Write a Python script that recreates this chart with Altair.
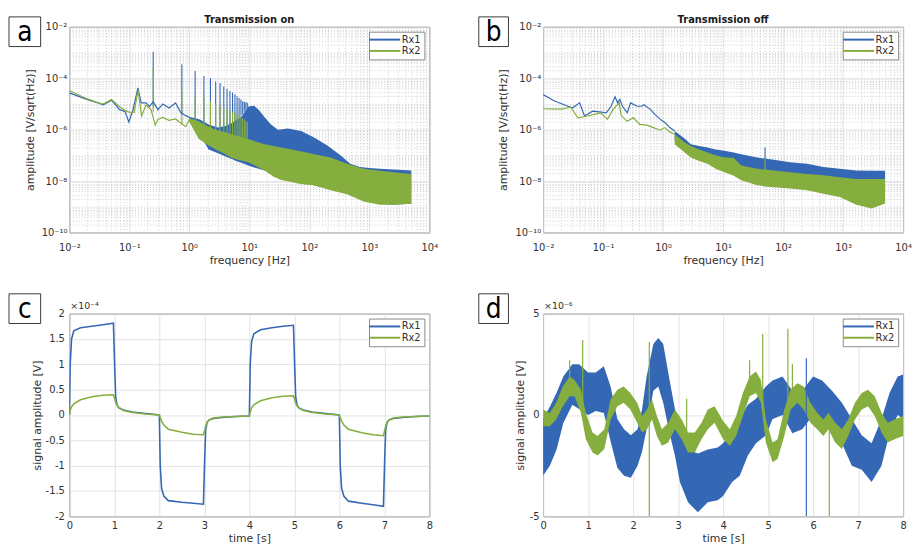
import math
import altair as alt
import pandas as pd

BLUE = "#3468b4"
GREEN = "#86ae3e"
FONT = "DejaVu Sans"
TXT = "#303030"
GRID_MAJOR = "#dcdcdc"
GRID_MINOR = "#c4c4c4"
SERIES = ["Rx1", "Rx2"]

# ---------------- panel a : Transmission on (amplitude spectrum) ----------------
a_rx1_line_f = [0.01, 0.0195, 0.032, 0.0368, 0.0505, 0.069, 0.085, 0.098, 0.115, 0.139, 0.158,
                0.19, 0.216, 0.25, 0.3, 0.36, 0.46, 0.59, 0.72, 0.87, 1.0]
a_rx1_line_v = [2.7e-5, 1.5e-5, 1.05e-5, 9.3e-6, 1.4e-5, 6.0e-6, 5.0e-6, 2.0e-6, 5.8e-6, 4.2e-5, 1.1e-5,
                1.1e-5, 8.0e-6, 1.2e-5, 6.0e-6, 1.0e-5, 7.0e-6, 1.1e-5, 4.6e-6, 3.5e-6, 3.0e-6]
a_rx2_line_f = [0.01, 0.0195, 0.032, 0.0368, 0.0505, 0.069, 0.085, 0.1, 0.12, 0.14, 0.16,
                0.19, 0.23, 0.27, 0.3, 0.36, 0.46, 0.59, 0.72, 0.87, 1.0]
a_rx2_line_v = [3.3e-5, 1.6e-5, 1.05e-5, 1.0e-5, 1.5e-5, 7.8e-6, 5.5e-6, 4.8e-6, 4.6e-6, 3.4e-5, 3.4e-6,
                9.0e-6, 6.0e-6, 1.5e-6, 2.5e-6, 3.0e-6, 2.3e-6, 2.6e-6, 1.8e-6, 1.3e-6, 2.5e-6]
a_rx1_band_f = [1.0, 1.5, 2.1, 3.0, 4.0, 5.1, 6.0, 7.6, 9.6, 12, 14.3, 18, 23, 30, 44, 73, 120, 200,
                330, 480, 700, 1000, 1500, 2500, 5000]
a_rx1_band_hi = [3.2e-6, 2.5e-6, 1.6e-6, 1.2e-6, 1.4e-6, 1.8e-6, 2.3e-6, 3.5e-6, 8.0e-6, 8.5e-6, 6.0e-6,
                 3.0e-6, 1.6e-6, 9.8e-7, 1.1e-6, 8.9e-7, 4.9e-7, 2.4e-7, 1.0e-7, 4.7e-8, 3.5e-8, 3.2e-8,
                 3.0e-8, 2.8e-8, 2.6e-8]
a_rx1_band_lo = [2.4e-6, 6.3e-7, 1.7e-7, 1.2e-7, 9.0e-8, 7.2e-8, 6.0e-8, 5.0e-8, 4.0e-8, 3.4e-8, 3.0e-8,
                 2.6e-8, 2.2e-8, 1.9e-8, 1.5e-8, 1.0e-8, 6.8e-9, 5.0e-9, 4.0e-9, 3.2e-9, 2.6e-9, 1.5e-9,
                 1.3e-9, 1.2e-9, 1.3e-9]
a_rx2_band_f = [1.0, 1.44, 2.0, 2.75, 4.0, 5.1, 7.0, 9.6, 13, 18, 25, 34, 50, 64, 90, 120, 225, 425,
                800, 1500, 2500, 5000]
a_rx2_band_hi = [2.8e-6, 2.1e-6, 1.4e-6, 1.0e-6, 8.0e-7, 6.6e-7, 5.3e-7, 4.3e-7, 3.4e-7, 2.7e-7, 2.3e-7,
                 2.0e-7, 1.7e-7, 1.5e-7, 1.3e-7, 1.1e-7, 8.3e-8, 4.7e-8, 3.0e-8, 2.5e-8, 2.2e-8, 1.9e-8]
a_rx2_band_lo = [2.0e-6, 4.3e-7, 2.6e-7, 1.7e-7, 1.1e-7, 7.9e-8, 6.5e-8, 5.4e-8, 3.8e-8, 2.6e-8, 1.5e-8,
                 1.1e-8, 9.1e-9, 8.0e-9, 7.2e-9, 6.8e-9, 4.4e-9, 3.1e-9, 1.6e-9, 1.2e-9, 1.2e-9, 1.3e-9]
a_spike_f = [0.25, 0.75, 1.25, 1.75, 2.25, 2.75, 3.25, 3.75, 4.25, 4.75, 5.25, 5.75, 6.25, 6.75, 7.25, 7.75,
             8.25, 8.75, 9.25]
a_rx1_spike_top = [1.07e-3, 3.5e-4, 1.9e-4, 1.23e-4, 1.0e-4, 7.4e-5, 6.5e-5, 4.8e-5, 3.9e-5, 3.2e-5,
                   2.8e-5, 2.4e-5, 2.0e-5, 1.7e-5, 1.5e-5, 1.26e-5, 1.2e-5, 1.15e-5, 1.1e-5]
a_rx1_spike_base = [8e-6, 4e-6, 2.5e-6, 1.5e-6, 1.5e-6, 1.2e-6, 1.2e-6, 1.2e-6, 1.5e-6, 1.5e-6,
                    2e-6, 2e-6, 2.5e-6, 3e-6, 3.5e-6, 4e-6, 5e-6, 6e-6, 7e-6]
a_rx2_spike_top = [2.6e-4, 3.5e-5, 2.0e-5, 1.8e-5, 1.26e-5, 1.0e-5, 8.9e-6, 7.9e-6, 6.3e-6, 5.6e-6,
                   5.0e-6, 4.5e-6, 4.0e-6, 3.5e-6, 3.2e-6, 2.8e-6, 2.5e-6, 2.2e-6, 2.0e-6]
a_rx2_spike_base = [5e-6, 1.5e-6, 1.5e-6, 1e-6, 8e-7, 7e-7, 6e-7, 5e-7, 5e-7, 5e-7,
                    4e-7, 4e-7, 4e-7, 4e-7, 4e-7, 4e-7, 4e-7, 4e-7, 4e-7]

# ---------------- panel b : Transmission off ----------------
b_rx1_line_f = [0.01, 0.0155, 0.026, 0.031, 0.0407, 0.049, 0.067, 0.093, 0.113, 0.136, 0.158, 0.175,
                0.19, 0.21, 0.253, 0.287, 0.37, 0.44, 0.48, 0.62, 0.73, 0.9, 1.07, 1.3, 1.56]
b_rx1_line_v = [2.3e-5, 1.3e-5, 8.1e-6, 7.1e-6, 1.1e-5, 3.4e-6, 5.2e-6, 4.8e-6, 4.5e-6, 8.1e-6, 1.9e-5,
                1.1e-5, 1.5e-5, 8.1e-6, 4.5e-6, 1.1e-5, 8.1e-6, 8.1e-6, 9.3e-6, 6.0e-6, 3.9e-6, 2.5e-6,
                1.9e-6, 1.2e-6, 8.9e-7]
b_rx2_line_f = [0.01, 0.02, 0.029, 0.038, 0.055, 0.091, 0.118, 0.146, 0.186, 0.2, 0.25, 0.32, 0.41,
                0.54, 0.69, 0.89, 1.07, 1.3, 1.56]
b_rx2_line_v = [6.5e-6, 6.3e-6, 7.4e-6, 2.9e-6, 3.4e-6, 4.5e-6, 2.5e-6, 6.0e-6, 1.1e-5, 3.6e-6, 2.1e-6,
                2.9e-6, 1.6e-6, 1.5e-6, 1.2e-6, 9.5e-7, 1.2e-6, 8.0e-7, 6.6e-7]
b_band_f = [1.56, 2.28, 2.9, 4.0, 5.5, 7.5, 10.5, 15, 20, 37, 50, 70, 130, 250, 470, 880, 1650, 3000, 5000]
b_rx1_band_hi = [8.9e-7, 4.5e-7, 2.7e-7, 2.3e-7, 2.0e-7, 1.7e-7, 1.5e-7, 1.3e-7, 1.1e-7, 8.3e-8, 7.5e-8,
                 6.8e-8, 5.4e-8, 4.7e-8, 3.5e-8, 3.0e-8, 2.6e-8, 2.5e-8, 2.5e-8]
b_rx1_band_lo = [4.0e-7, 1.5e-7, 1.0e-7, 8.0e-8, 6.0e-8, 4.5e-8, 4.0e-8, 3.5e-8, 3.0e-8, 2.5e-8, 2.4e-8,
                 2.3e-8, 2.0e-8, 1.8e-8, 1.5e-8, 1.2e-8, 1.0e-8, 1.0e-8, 1.0e-8]
b_rx2_band_hi = [6.6e-7, 3.2e-7, 2.3e-7, 1.7e-7, 1.3e-7, 1.0e-7, 8.3e-8, 8.0e-8, 4.0e-8, 3.0e-8, 2.8e-8,
                 2.6e-8, 2.2e-8, 1.9e-8, 1.7e-8, 1.4e-8, 1.2e-8, 1.2e-8, 1.2e-8]
b_rx2_band_lo = [2.7e-7, 1.3e-7, 8.3e-8, 6.0e-8, 4.7e-8, 3.0e-8, 2.2e-8, 1.6e-8, 1.07e-8, 6.8e-9, 6.2e-9,
                 5.8e-9, 5.1e-9, 4.4e-9, 3.2e-9, 2.4e-9, 1.2e-9, 8.5e-10, 1.35e-9]
b_spike_f = [50]
b_rx1_spike_base = [7e-8]
b_rx1_spike_top = [2.0e-7]
b_rx2_spike_base = [2.5e-8]
b_rx2_spike_top = [7.2e-8]

# ---------------- panel c : time signal, transmission on (x 1e-4 V) ----------------
c_t = [0.0, 0.02, 0.05, 0.1, 0.25, 0.5, 0.75, 0.98, 1.01, 1.03, 1.06, 1.1, 1.2, 1.4, 1.7, 2.0, 2.02,
       2.05, 2.1, 2.2, 2.5, 2.75, 2.98, 3.01, 3.03, 3.06, 3.1, 3.2, 3.4, 3.7, 4.0, 4.02, 4.05, 4.1,
       4.25, 4.5, 4.75, 4.98, 5.01, 5.03, 5.06, 5.1, 5.2, 5.4, 5.7, 6.0, 6.02, 6.05, 6.1, 6.2, 6.5,
       6.75, 6.98, 7.01, 7.03, 7.06, 7.1, 7.2, 7.4, 7.7, 8.0]
c_rx1 = [0.0, 1.0, 1.5, 1.66, 1.72, 1.75, 1.78, 1.81, 0.9, 0.35, 0.2, 0.14, 0.1, 0.06, 0.03, 0.0, -1.0,
         -1.45, -1.6, -1.69, -1.72, -1.74, -1.76, -0.8, -0.3, -0.15, -0.1, -0.07, -0.05, -0.03, -0.02,
         1.0, 1.45, 1.6, 1.68, 1.72, 1.75, 1.77, 0.9, 0.35, 0.2, 0.14, 0.1, 0.06, 0.03, 0.0, -1.0, -1.45,
         -1.6, -1.7, -1.74, -1.77, -1.8, -0.8, -0.3, -0.15, -0.1, -0.07, -0.05, -0.03, -0.02]
c_rx2 = [0.0, 0.1, 0.16, 0.22, 0.3, 0.36, 0.39, 0.4, 0.32, 0.25, 0.19, 0.15, 0.09, 0.05, 0.02, 0.0, -0.05,
         -0.12, -0.2, -0.28, -0.34, -0.38, -0.39, -0.3, -0.22, -0.15, -0.1, -0.06, -0.04, -0.03, -0.02,
         0.06, 0.14, 0.2, 0.28, 0.34, 0.37, 0.38, 0.3, 0.23, 0.18, 0.14, 0.09, 0.05, 0.02, 0.0, -0.05,
         -0.12, -0.2, -0.28, -0.35, -0.39, -0.41, -0.3, -0.22, -0.15, -0.1, -0.06, -0.04, -0.03, -0.02]

# ---------------- panel d : time signal, transmission off (x 1e-6 V) ----------------
d_rx1_t = [0.0, 0.15, 0.3, 0.45, 0.65, 0.8, 1.0, 1.17, 1.35, 1.5, 1.65, 1.8, 1.95, 2.1, 2.2, 2.3, 2.45,
           2.56, 2.67, 2.82, 2.93, 3.04, 3.22, 3.44, 3.66, 3.88, 4.0, 4.2, 4.37, 4.55, 4.73, 4.95, 5.1,
           5.32, 5.54, 5.76, 6.0, 6.2, 6.42, 6.64, 6.86, 7.08, 7.3, 7.52, 7.7, 7.88, 8.0]
d_rx1_lo = [-3.0, -2.5, -1.7, -0.4, 0.5, 0.3, 0.0, 0.2, 0.1, -1.3, -2.6, -3.0, -3.1, -2.5, -1.8, -0.7,
            1.2, 1.4, 0.6, -1.0, -2.0, -3.3, -4.3, -4.8, -4.3, -4.2, -4.0, -3.3, -3.0, -2.0, -1.4, -1.0,
            -0.2, 0.0, -0.9, -0.7, 0.0, -0.2, -0.5, -1.4, -2.5, -2.7, -3.3, -2.5, -0.9, 0.0, -0.2]
d_rx1_hi = [-0.2, 0.4, 1.1, 1.9, 2.5, 2.5, 2.1, 2.1, 2.4, 1.4, -0.2, -0.7, -1.0, -0.7, 0.3, 1.9, 3.5,
            3.8, 3.5, 1.6, 0.3, -1.0, -1.7, -1.9, -1.7, -1.6, -1.4, -0.8, -0.2, 0.5, 0.8, 1.4, 1.7, 1.9,
            1.2, 1.2, 1.9, 1.7, 1.2, 0.6, -0.2, -1.0, -1.4, -0.2, 1.1, 1.9, 2.0]
d_rx2_t = [0.0, 0.15, 0.29, 0.44, 0.59, 0.7, 0.84, 0.95, 1.1, 1.21, 1.36, 1.5, 1.65, 1.79, 1.94, 2.09,
           2.2, 2.31, 2.42, 2.53, 2.64, 2.78, 2.93, 3.08, 3.22, 3.37, 3.52, 3.66, 3.81, 4.0, 4.15, 4.29,
           4.44, 4.59, 4.73, 4.84, 4.95, 5.1, 5.21, 5.36, 5.5, 5.65, 5.79, 5.94, 6.09, 6.23, 6.34, 6.49,
           6.64, 6.78, 6.93, 7.08, 7.22, 7.37, 7.52, 7.66, 7.81, 8.0]
d_rx2_lo = [-0.55, -0.55, -0.22, 0.43, 0.92, 0.92, 0.11, -1.2, -1.85, -2.0, -1.68, -0.22, 0.43, 0.6, 0.27,
            -0.38, -0.87, -0.7, -0.22, -1.04, -1.52, -1.36, -0.7, -1.2, -1.85, -1.85, -1.2, -0.7, -0.38,
            -1.2, -1.52, -1.04, -0.05, 0.92, 1.08, 0.6, -1.36, -2.33, -2.17, -1.04, 0.27, 0.6, 0.27,
            -0.38, -0.7, -1.04, -0.7, -1.36, -1.68, -1.04, -0.22, 0.27, 0.43, -0.05, -0.87, -1.36, -1.2,
            -1.04]
d_rx2_hi = [0.27, 0.1, 0.6, 1.41, 1.9, 1.73, 1.24, 0.11, -0.87, -1.04, -0.7, 0.76, 1.24, 1.41, 1.08, 0.6,
            -0.05, 0.27, 0.76, -0.05, -0.7, -0.38, 0.27, -0.22, -0.87, -0.87, -0.38, 0.27, 0.43, -0.3,
            -0.7, -0.05, 1.08, 1.9, 2.14, 1.73, -0.22, -1.36, -1.2, 0.27, 1.24, 1.57, 1.41, 0.6, 0.11,
            -0.22, 0.11, -0.38, -0.7, -0.22, 0.6, 1.08, 1.24, 0.92, 0.11, -0.38, -0.22, -0.05]
d_spike_t = [0.59, 0.88, 2.36, 3.19, 4.59, 4.88, 5.44, 5.54, 6.36, 5.85]
d_spike_lo = [1.0, 0.5, -5.0, -1.0, 1.2, 0.5, 0.5, 0.8, -5.0, -5.0]
d_spike_hi = [2.7, 3.7, 3.6, 0.8, 2.7, 4.0, 4.25, 2.5, -0.5, 2.8]
d_spike_series = ["Rx2", "Rx2", "Rx2", "Rx2", "Rx2", "Rx2", "Rx2", "Rx2", "Rx2", "Rx1"]

# ---------------- axis tick lists ----------------
freq_major = [1e-2, 1e-1, 1.0, 10.0, 100.0, 1000.0, 10000.0]
freq_minor = [float(f"{m}e{k}") for k in range(-2, 4) for m in range(2, 10)]
amp_major = [1e-10, 1e-8, 1e-6, 1e-4, 1e-2]
amp_minor = [float(f"{m}e{k}") for k in range(-10, -2) for m in range(1, 10)
             if float(f"{m}e{k}") not in amp_major]
time_ticks = [0, 1, 2, 3, 4, 5, 6, 7, 8]
c_ticks = [-2, -1.5, -1, -0.5, 0, 0.5, 1, 1.5, 2]
d_ticks = [-5, 0, 5]

SUP = str.maketrans("-0123456789", "⁻⁰¹²³⁴⁵⁶⁷⁸⁹")

# legend line: asymmetric path so the 31 px stroke starts at the box's left edge
LEG = alt.Legend(orient="top-right", offset=5, title=None, padding=3, strokeColor="#8a8a8a",
                 fillColor="white", symbolType="M-1.9,0H5.9", symbolSize=64, symbolStrokeWidth=2,
                 labelOffset=20, rowPadding=1.4, labelFont=FONT, labelFontSize=10,
                 labelColor=TXT, cornerRadius=0)
COLOR_SCALE = alt.Scale(domain=SERIES, range=[BLUE, GREEN])


def decade_axis(major, minor, title, tx, ty, angle, pad, baseline):
    values = sorted(set(major + minor))
    test = " || ".join(f"datum.value == {v!r}" for v in major)
    lab = "''"
    for v in reversed(major):
        e = int(round(math.log10(v)))
        lab = f"datum.value == {v!r} ? '10{str(e).translate(SUP)}' : {lab}"
    return alt.Axis(values=values, labelExpr=lab, grid=True,
                    gridColor={"condition": {"test": test, "value": GRID_MAJOR}, "value": GRID_MINOR},
                    gridDash={"condition": {"test": test, "value": []}, "value": [1, 2]},
                    gridWidth=0.8, ticks=False, domain=False, labelFont=FONT, labelFontSize=10,
                    labelColor=TXT, labelPadding=pad, labelOverlap=False, labelFlush=False,
                    labelBaseline=baseline, title=title, titleFont=FONT, titleFontSize=11,
                    titleFontWeight="normal", titleColor=TXT, titleX=tx, titleY=ty, titleAngle=angle,
                    titleAlign="center", titleBaseline="middle")


def lin_axis(values, title, tx, ty, angle, pad, baseline):
    return alt.Axis(values=values, labelExpr="toString(datum.value)", grid=True, gridColor=GRID_MAJOR,
                    gridWidth=0.8, ticks=False, domain=False, labelFont=FONT, labelFontSize=10,
                    labelColor=TXT, labelPadding=pad, labelOverlap=False, labelFlush=False,
                    labelBaseline=baseline, title=title, titleFont=FONT, titleFontSize=11,
                    titleFontWeight="normal", titleColor=TXT, titleX=tx, titleY=ty, titleAngle=angle,
                    titleAlign="center", titleBaseline="middle")


def deco(letter, bx0, bx1, by0, by1, title=None, exp_label=None, top_marker=False, w=364):
    one = pd.DataFrame({"label": [letter]})
    base = alt.Chart(one)
    layers = [
        base.mark_rect(fill="white", stroke="#3a3a3a", strokeWidth=1).encode(
            x=alt.value(bx0), x2=alt.value(bx1), y=alt.value(by0), y2=alt.value(by1)),
        base.mark_text(font="Liberation Sans Narrow, DejaVu Sans Condensed, DejaVu Sans", fontSize=28,
                       color="black", align="center", baseline="middle").encode(
            x=alt.value((bx0 + bx1) / 2), y=alt.value((by0 + by1) / 2 + 1), text="label:N"),
    ]
    if title:
        layers.append(base.mark_text(font=FONT, fontSize=10, fontWeight="bold", color="#1a1a1a",
                                     align="center", baseline="middle").encode(
            x=alt.value(w / 2), y=alt.value(-7), text=alt.value(title)))
    if exp_label:
        layers.append(base.mark_text(font=FONT, fontSize=9.5, color=TXT, align="left",
                                     baseline="middle").encode(
            x=alt.value(1), y=alt.value(-8), text=alt.value(exp_label)))
    if top_marker:
        layers.append(base.mark_rule(opacity=0).encode(
            x=alt.value(0), y=alt.value(-15), y2=alt.value(-14)))
    return layers


def spectrum_panel(letter, title, ytx, box, lines, bands, spikes, top_marker):
    xscale = alt.Scale(type="log", domain=[1e-2, 1e4], nice=False)
    yscale = alt.Scale(type="log", domain=[1e-10, 1e-2], nice=False)
    xax = decade_axis(freq_major, freq_minor, "frequency [Hz]", 182, 28, 0, 15, "middle")
    yax = decade_axis(amp_major, amp_minor, "amplitude [V/sqrt(Hz)]", ytx, 104, 270, 2.5, "middle")

    def X():
        return alt.X("f:Q", scale=xscale, axis=xax)

    def Y(field):
        return alt.Y(f"{field}:Q", scale=yscale, axis=yax)

    layers = []
    for (f, lo, hi, col), (sf, sb, st) in zip(bands, spikes):
        layers.append(alt.Chart(pd.DataFrame({"f": f, "lo": lo, "hi": hi})).mark_area(
            color=col, opacity=1, clip=True).encode(x=X(), y=Y("lo"), y2="hi"))
        layers.append(alt.Chart(pd.DataFrame({"f": sf, "base": sb, "top": st})).mark_rule(
            color=col, strokeWidth=1.1, clip=True).encode(x=X(), y=Y("base"), y2="top"))
    ldf = pd.concat([pd.DataFrame({"f": f, "v": v, "series": s}) for f, v, s in lines])
    layers.append(alt.Chart(ldf).mark_line(strokeWidth=1.2, clip=True).encode(
        x=X(), y=Y("v"), color=alt.Color("series:N", scale=COLOR_SCALE, legend=LEG)))
    layers += deco(letter, *box, title=title, top_marker=top_marker)
    return alt.layer(*layers).properties(width=364, height=208)


pa = spectrum_panel(
    "a", "Transmission on", -39, (-61, -29, -10, 20),
    [(a_rx1_line_f, a_rx1_line_v, "Rx1"), (a_rx2_line_f, a_rx2_line_v, "Rx2")],
    [(a_rx1_band_f, a_rx1_band_lo, a_rx1_band_hi, BLUE), (a_rx2_band_f, a_rx2_band_lo, a_rx2_band_hi, GREEN)],
    [(a_spike_f, a_rx1_spike_base, a_rx1_spike_top), (a_spike_f, a_rx2_spike_base, a_rx2_spike_top)],
    True)
pb = spectrum_panel(
    "b", "Transmission off", -40, (-65, -35, -10, 20),
    [(b_rx1_line_f, b_rx1_line_v, "Rx1"), (b_rx2_line_f, b_rx2_line_v, "Rx2")],
    [(b_band_f, b_rx1_band_lo, b_rx1_band_hi, BLUE), (b_band_f, b_rx2_band_lo, b_rx2_band_hi, GREEN)],
    [(b_spike_f, b_rx1_spike_base, b_rx1_spike_top), (b_spike_f, b_rx2_spike_base, b_rx2_spike_top)],
    True)

# panel c
c_df = pd.concat([pd.DataFrame({"t": c_t, "v": c_rx1, "series": "Rx1"}),
                  pd.DataFrame({"t": c_t, "v": c_rx2, "series": "Rx2"})])
c_x = alt.X("t:Q", scale=alt.Scale(domain=[0, 8], nice=False),
            axis=lin_axis(time_ticks, "time [s]", 182, 22, 0, 9.5, "middle"))
c_y = alt.Y("v:Q", scale=alt.Scale(domain=[-2, 2], nice=False),
            axis=lin_axis(c_ticks, "signal amplitude [V]", -32, 102.5, 270, 5, "middle"))
pc = alt.layer(
    alt.Chart(c_df).mark_line(strokeWidth=1.6, clip=True).encode(
        x=c_x, y=c_y, color=alt.Color("series:N", scale=COLOR_SCALE, legend=LEG)),
    *deco("c", -61, -29, -20, 10, exp_label="×10⁻⁴"),
).properties(width=364, height=205)

# panel d
d_x = alt.X("t:Q", scale=alt.Scale(domain=[0, 8], nice=False),
            axis=lin_axis(time_ticks, "time [s]", 182, 22, 0, 9.5, "middle"))


def d_y(field):
    return alt.Y(f"{field}:Q", scale=alt.Scale(domain=[-5, 5], nice=False),
                 axis=lin_axis(d_ticks, "signal amplitude [V]", -23, 102.5, 270, 4, "middle"))


pdd = alt.layer(
    alt.Chart(pd.DataFrame({"t": d_rx1_t, "lo": d_rx1_lo, "hi": d_rx1_hi})).mark_area(
        color=BLUE, clip=True).encode(x=d_x, y=d_y("lo"), y2="hi"),
    alt.Chart(pd.DataFrame({"t": d_rx2_t, "lo": d_rx2_lo, "hi": d_rx2_hi})).mark_area(
        color=GREEN, clip=True).encode(x=d_x, y=d_y("lo"), y2="hi"),
    alt.Chart(pd.DataFrame({"t": d_spike_t, "lo": d_spike_lo, "hi": d_spike_hi,
                            "series": d_spike_series})).mark_rule(strokeWidth=1.2, clip=True).encode(
        x=d_x, y=d_y("lo"), y2="hi", color=alt.Color("series:N", scale=COLOR_SCALE, legend=LEG)),
    *deco("d", -65, -35, -20, 10, exp_label="×10⁻⁶"),
).properties(width=364, height=205)

chart = alt.concat(pa, pb, pc, pdd, columns=2, spacing={"row": 82, "column": 115},
                   bounds="flush").resolve_scale(color="independent").properties(
    padding=0).configure_view(stroke="#7c7c7c", strokeWidth=1)

chart.save("out.html", embed_options={"renderer": "svg", "actions": False})
